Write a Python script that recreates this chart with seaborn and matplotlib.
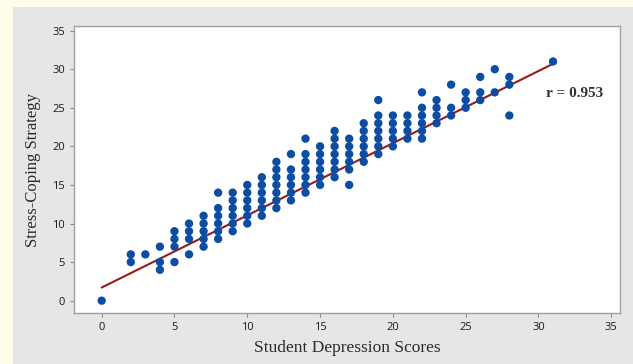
import matplotlib
matplotlib.use("Agg")
import matplotlib.pyplot as plt
import numpy as np
import pandas as pd
import seaborn as sns
from matplotlib.patches import Rectangle

# depression score -> list of stress-coping values seen in that column
columns = {
    0: [0],
    2: [5, 6],
    3: [6],
    4: [4, 5, 7],
    5: [5, 7, 8, 9],
    6: [6, 8, 9, 10],
    7: [7, 8, 9, 10, 11],
    8: [8, 9, 10, 11, 12, 14],
    9: [9, 10, 11, 12, 13, 14],
    10: [10, 11, 12, 13, 14, 15],
    11: [11, 12, 13, 14, 15, 16],
    12: [12, 13, 14, 15, 16, 17, 18],
    13: [13, 14, 15, 16, 17, 19],
    14: [14, 15, 16, 17, 18, 19, 21],
    15: [15, 16, 17, 18, 19, 20],
    16: [16, 17, 18, 19, 20, 21, 22],
    17: [15, 17, 18, 19, 20, 21],
    18: [18, 19, 20, 21, 22, 23],
    19: [19, 20, 21, 22, 23, 24, 26],
    20: [20, 21, 22, 23, 24],
    21: [21, 22, 23, 24],
    22: [21, 22, 23, 24, 25, 27],
    23: [23, 24, 25, 26],
    24: [24, 25, 28],
    25: [25, 26, 27],
    26: [26, 27, 29],
    27: [27, 30],
    28: [24, 28, 29],
    31: [31],
}
depression = [x for x, ys in columns.items() for _ in ys]
coping = [y for ys in columns.values() for y in ys]

# fitted line (overlapping duplicate points are not visible)
fit_x = [0, 31]
fit_y = [1.7, 30.7]
r_label = "r = 0.953"

df = pd.DataFrame({"depression": depression, "coping": coping})

sns.set_style("white")
plt.rcParams["font.family"] = ["Open Sans", "DejaVu Sans"]
fig = plt.figure(figsize=(6.33, 3.64), dpi=100)
fig.patch.set_facecolor("#FFFDE9")
fig.patches.append(Rectangle((13 / 633, 0), 1, 1 - 7 / 364, transform=fig.transFigure,
                             facecolor="#E6E6E6", edgecolor="none", zorder=-5))

ax = fig.add_axes([74 / 633, 1 - 313 / 364, (620 - 74) / 633, (313 - 26) / 364])
ax.set_facecolor("white")

sns.lineplot(x=fit_x, y=fit_y, ax=ax, color="#951C1C", lw=1.5, zorder=2)
sns.scatterplot(data=df, x="depression", y="coping", ax=ax, color="#0B4DA2",
                s=36, edgecolor="none", zorder=3)

ax.set_xlim(-1.9, 35.6)
ax.set_ylim(-1.6, 35.6)
ax.set_xticks(range(0, 36, 5))
ax.set_yticks(range(0, 36, 5))
ax.tick_params(axis="both", direction="out", length=3, width=0.8, color="#888888",
               labelsize=8, labelcolor="#1A1A1A", bottom=True, left=True)
for sp in ax.spines.values():
    sp.set_color("#A0A0A0")
    sp.set_linewidth(1)

ax.set_xlabel("Student Depression Scores", family="Liberation Serif", fontsize=12.5,
              color="#2A2A2A", labelpad=5)
ax.set_ylabel("Stress-Coping Strategy", family="Liberation Serif", fontsize=12,
              color="#2A2A2A", labelpad=8)
ax.text(30.5, 26.9, r_label, family="Liberation Serif", fontsize=11, fontweight="bold",
        color="#333333", va="center", ha="left")

fig.savefig("out.png", dpi=100, facecolor=fig.get_facecolor())
